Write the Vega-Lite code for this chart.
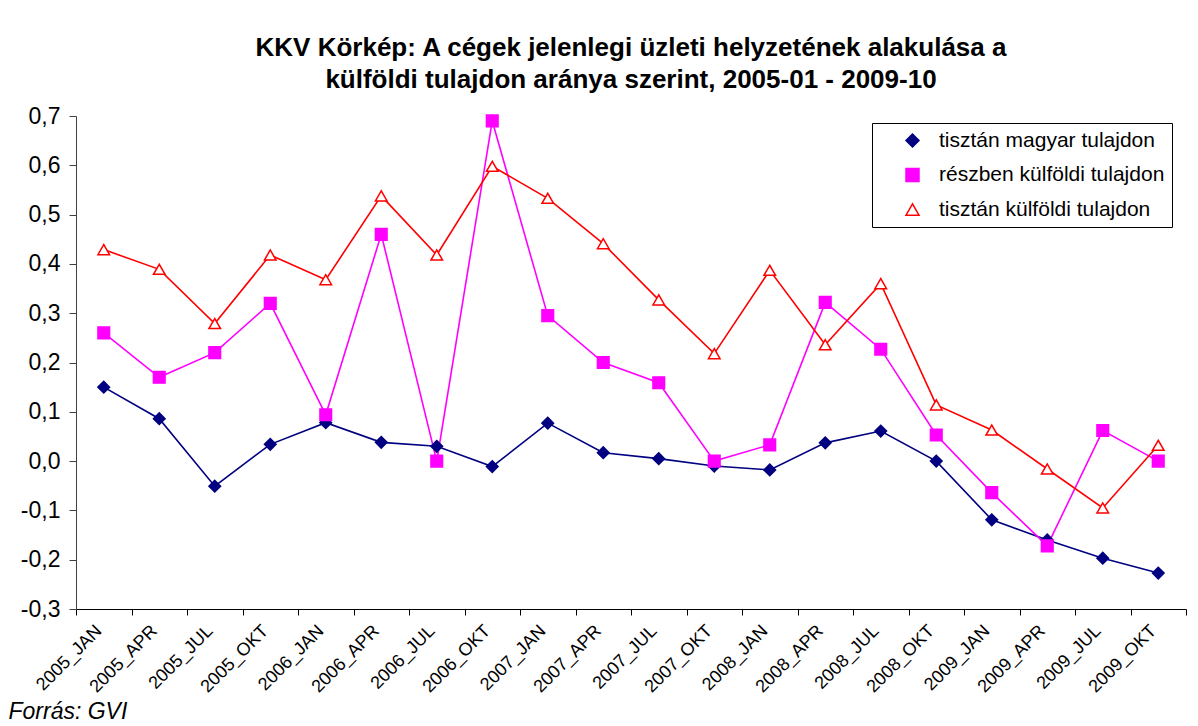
{
  "$schema": "https://vega.github.io/schema/vega-lite/v6.json",
  "width": 1110,
  "height": 493,
  "autosize": {"type": "none"},
  "padding": {"left": 76, "top": 116, "right": 12, "bottom": 117},
  "background": "white",
  "title": {
    "text": ["KKV Körkép: A cégek jelenlegi üzleti helyzetének alakulása a", "külföldi tulajdon aránya szerint, 2005-01 - 2009-10"],
    "fontSize": 26,
    "fontWeight": "bold",
    "font": "Liberation Sans",
    "lineHeight": 32,
    "anchor": "middle",
    "frame": "group",
    "offset": 12,
    "color": "black"
  },
  "config": {
    "font": "Liberation Sans",
    "view": {"stroke": null},
    "axis": {"grid": false, "domainColor": "black", "tickColor": "black", "labelColor": "black", "titleColor": "black"}
  },
  "data": {
    "values": [
      {"q": "2005_JAN", "s": "tisztán magyar tulajdon", "v": 0.15},
      {"q": "2005_APR", "s": "tisztán magyar tulajdon", "v": 0.086},
      {"q": "2005_JUL", "s": "tisztán magyar tulajdon", "v": -0.051},
      {"q": "2005_OKT", "s": "tisztán magyar tulajdon", "v": 0.034},
      {"q": "2006_JAN", "s": "tisztán magyar tulajdon", "v": 0.078},
      {"q": "2006_APR", "s": "tisztán magyar tulajdon", "v": 0.038},
      {"q": "2006_JUL", "s": "tisztán magyar tulajdon", "v": 0.03},
      {"q": "2006_OKT", "s": "tisztán magyar tulajdon", "v": -0.011},
      {"q": "2007_JAN", "s": "tisztán magyar tulajdon", "v": 0.077},
      {"q": "2007_APR", "s": "tisztán magyar tulajdon", "v": 0.017},
      {"q": "2007_JUL", "s": "tisztán magyar tulajdon", "v": 0.005},
      {"q": "2007_OKT", "s": "tisztán magyar tulajdon", "v": -0.01},
      {"q": "2008_JAN", "s": "tisztán magyar tulajdon", "v": -0.018},
      {"q": "2008_APR", "s": "tisztán magyar tulajdon", "v": 0.037},
      {"q": "2008_JUL", "s": "tisztán magyar tulajdon", "v": 0.061},
      {"q": "2008_OKT", "s": "tisztán magyar tulajdon", "v": 0.0},
      {"q": "2009_JAN", "s": "tisztán magyar tulajdon", "v": -0.119},
      {"q": "2009_APR", "s": "tisztán magyar tulajdon", "v": -0.16},
      {"q": "2009_JUL", "s": "tisztán magyar tulajdon", "v": -0.197},
      {"q": "2009_OKT", "s": "tisztán magyar tulajdon", "v": -0.227},
      {"q": "2005_JAN", "s": "részben külföldi tulajdon", "v": 0.26},
      {"q": "2005_APR", "s": "részben külföldi tulajdon", "v": 0.17},
      {"q": "2005_JUL", "s": "részben külföldi tulajdon", "v": 0.22},
      {"q": "2005_OKT", "s": "részben külföldi tulajdon", "v": 0.32},
      {"q": "2006_JAN", "s": "részben külföldi tulajdon", "v": 0.094},
      {"q": "2006_APR", "s": "részben külföldi tulajdon", "v": 0.46},
      {"q": "2006_JUL", "s": "részben külföldi tulajdon", "v": 0.0},
      {"q": "2006_OKT", "s": "részben külföldi tulajdon", "v": 0.69},
      {"q": "2007_JAN", "s": "részben külföldi tulajdon", "v": 0.295},
      {"q": "2007_APR", "s": "részben külföldi tulajdon", "v": 0.2},
      {"q": "2007_JUL", "s": "részben külföldi tulajdon", "v": 0.159},
      {"q": "2007_OKT", "s": "részben külföldi tulajdon", "v": 0.0},
      {"q": "2008_JAN", "s": "részben külföldi tulajdon", "v": 0.033},
      {"q": "2008_APR", "s": "részben külföldi tulajdon", "v": 0.322},
      {"q": "2008_JUL", "s": "részben külföldi tulajdon", "v": 0.227},
      {"q": "2008_OKT", "s": "részben külföldi tulajdon", "v": 0.053},
      {"q": "2009_JAN", "s": "részben külföldi tulajdon", "v": -0.064},
      {"q": "2009_APR", "s": "részben külföldi tulajdon", "v": -0.172},
      {"q": "2009_JUL", "s": "részben külföldi tulajdon", "v": 0.062},
      {"q": "2009_OKT", "s": "részben külföldi tulajdon", "v": 0.0},
      {"q": "2005_JAN", "s": "tisztán külföldi tulajdon", "v": 0.429},
      {"q": "2005_APR", "s": "tisztán külföldi tulajdon", "v": 0.389},
      {"q": "2005_JUL", "s": "tisztán külföldi tulajdon", "v": 0.279},
      {"q": "2005_OKT", "s": "tisztán külföldi tulajdon", "v": 0.418},
      {"q": "2006_JAN", "s": "tisztán külföldi tulajdon", "v": 0.368},
      {"q": "2006_APR", "s": "tisztán külföldi tulajdon", "v": 0.538},
      {"q": "2006_JUL", "s": "tisztán külföldi tulajdon", "v": 0.418},
      {"q": "2006_OKT", "s": "tisztán külföldi tulajdon", "v": 0.598},
      {"q": "2007_JAN", "s": "tisztán külföldi tulajdon", "v": 0.533},
      {"q": "2007_APR", "s": "tisztán külföldi tulajdon", "v": 0.441},
      {"q": "2007_JUL", "s": "tisztán külföldi tulajdon", "v": 0.327},
      {"q": "2007_OKT", "s": "tisztán külföldi tulajdon", "v": 0.218},
      {"q": "2008_JAN", "s": "tisztán külföldi tulajdon", "v": 0.387},
      {"q": "2008_APR", "s": "tisztán külföldi tulajdon", "v": 0.236},
      {"q": "2008_JUL", "s": "tisztán külföldi tulajdon", "v": 0.36},
      {"q": "2008_OKT", "s": "tisztán külföldi tulajdon", "v": 0.114},
      {"q": "2009_JAN", "s": "tisztán külföldi tulajdon", "v": 0.063},
      {"q": "2009_APR", "s": "tisztán külföldi tulajdon", "v": -0.016},
      {"q": "2009_JUL", "s": "tisztán külföldi tulajdon", "v": -0.095},
      {"q": "2009_OKT", "s": "tisztán külföldi tulajdon", "v": 0.032}
    ]
  },
  "encoding": {
    "x": {
      "field": "q",
      "type": "nominal",
      "sort": null,
      "scale": {"paddingInner": 0, "paddingOuter": 0},
      "axis": {
        "title": "Forrás: GVI",
        "titleFontSize": 23,
        "titleFontStyle": "italic",
        "titleFontWeight": "normal",
        "titleAnchor": "start",
        "titleAlign": "left",
        "titleBaseline": "alphabetic",
        "titleX": -68,
        "titleY": 109,
        "labelAngle": -45,
        "labelAlign": "right",
        "labelBaseline": "middle",
        "labelFontSize": 18,
        "labelPadding": 13,
        "labelOffset": -5,
        "tickBand": "extent",
        "tickSize": 6,
        "domainWidth": 1
      }
    },
    "y": {
      "field": "v",
      "type": "quantitative",
      "scale": {"domain": [-0.3, 0.7], "nice": false, "zero": false},
      "axis": {
        "title": null,
        "values": [-0.3, -0.2, -0.1, 0, 0.1, 0.2, 0.3, 0.4, 0.5, 0.6, 0.7],
        "labelExpr": "(datum.value < -0.0001 ? '-' : '') + replace(format(abs(datum.value), '.1f'), '.', ',')",
        "labelFontSize": 23,
        "labelPadding": 9,
        "tickSize": 7,
        "domainColor": "#404040",
        "tickColor": "#404040"
      }
    }
  },
  "layer": [
    {
      "mark": {"type": "line", "strokeWidth": 1.6},
      "encoding": {
        "stroke": {
          "field": "s",
          "type": "nominal",
          "scale": {"domain": ["tisztán magyar tulajdon", "részben külföldi tulajdon", "tisztán külföldi tulajdon"], "range": ["#000080", "#FF00FF", "#FF0000"]}
        },
        "detail": {"field": "s"}
      }
    },
    {
      "mark": {"type": "point", "filled": false, "size": 135, "strokeWidth": 1.5, "opacity": 1},
      "encoding": {
        "stroke": {
          "field": "s",
          "type": "nominal",
          "scale": {"domain": ["tisztán magyar tulajdon", "részben külföldi tulajdon", "tisztán külföldi tulajdon"], "range": ["#000080", "#FF00FF", "#FF0000"]},
          "legend": {
            "title": null,
            "orient": "none",
            "legendX": 796,
            "legendY": 7,
            "padding": 7,
            "strokeColor": "black",
            "fillColor": "white",
            "labelFontSize": 21,
            "labelColor": "black",
            "labelFont": "Liberation Sans",
            "symbolSize": 169,
            "symbolStrokeWidth": 1.5,
            "symbolOffset": 23,
            "labelOffset": 16,
            "rowPadding": 12.5,
            "labelLimit": 400
          }
        },
        "fill": {
          "field": "s",
          "type": "nominal",
          "scale": {"domain": ["tisztán magyar tulajdon", "részben külföldi tulajdon", "tisztán külföldi tulajdon"], "range": ["#000080", "#FF00FF", "#FFFFFF"]}
        },
        "shape": {
          "field": "s",
          "type": "nominal",
          "scale": {"domain": ["tisztán magyar tulajdon", "részben külföldi tulajdon", "tisztán külföldi tulajdon"], "range": ["diamond", "square", "triangle-up"]}
        }
      }
    }
  ]
}
